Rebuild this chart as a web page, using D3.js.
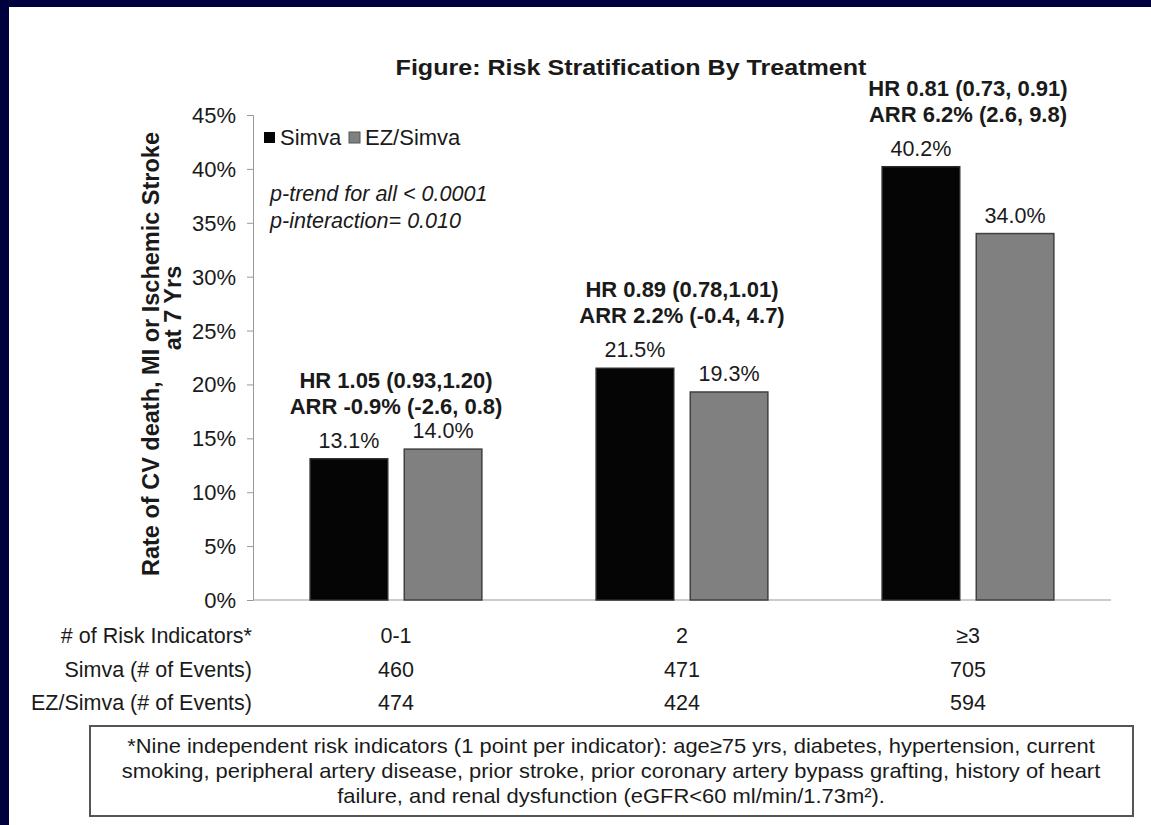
<!DOCTYPE html>
<html>
<head>
<meta charset="utf-8">
<script src="https://cdn.jsdelivr.net/npm/d3@7"></script>
<style>
  html, body { margin: 0; padding: 0; background: #00003f; }
  svg { display: block; }
  text { font-family: "Liberation Sans", Arial, sans-serif; fill: #1a1a1a; }
</style>
</head>
<body>
<svg id="chart" width="1151" height="825"></svg>
<script>
// Risk groups and event rates at 7 years (%)
const categories = ["0-1", "2", "\u22653"];
const series = ["Simva", "EZ/Simva"];
const simvaRate = [13.1, 21.5, 40.2];
const ezSimvaRate = [14.0, 19.3, 34.0];
const simvaEvents = [460, 471, 705];
const ezSimvaEvents = [474, 424, 594];
const hrLabels = ["HR 1.05 (0.93,1.20)", "HR 0.89 (0.78,1.01)", "HR 0.81 (0.73, 0.91)"];
const arrLabels = ["ARR -0.9% (-2.6, 0.8)", "ARR 2.2% (-0.4, 4.7)", "ARR 6.2% (2.6, 9.8)"];
const yTicks = [0, 5, 10, 15, 20, 25, 30, 35, 40, 45];
const footnoteLines = [
  "*Nine independent risk indicators (1 point per indicator): age\u226575 yrs, diabetes, hypertension, current",
  "smoking, peripheral artery disease, prior stroke, prior coronary artery bypass grafting, history of heart",
  "failure, and renal dysfunction (eGFR<60 ml/min/1.73m\u00b2)."
];

const rates = [simvaRate, ezSimvaRate];
const fills = ["#050505", "#808080"];
const strokes = ["#2a2a2a", "#404040"];

const svg = d3.select("#chart");

// white slide panel
svg.append("rect").attr("x", 9).attr("y", 7).attr("width", 1142).attr("height", 818).attr("fill", "#ffffff");

function label(x, y, str, o = {}) {
  return svg.append("text")
    .attr("transform", `translate(${x},${y}) scale(${o.sx ?? 1},1)`)
    .attr("text-anchor", o.anchor || "start")
    .style("font-size", (o.size || 22) + "px")
    .style("font-weight", o.bold ? "bold" : "normal")
    .style("font-style", o.italic ? "italic" : "normal")
    .text(str);
}

const x = d3.scaleBand().domain(categories).range([253, 1111]).paddingInner(0).paddingOuter(0);
const xs = d3.scaleBand().domain(series).range([0, x.bandwidth()]).paddingInner(0.1755).paddingOuter(0.607);
const y = d3.scaleLinear().domain([0, 45]).range([600, 115]);

// title
label(631, 75, "Figure: Risk Stratification By Treatment", { anchor: "middle", bold: true, size: 22, sx: 1.14 });

// y axis
const yAxis = svg.append("g").attr("transform", "translate(253,0)")
  .call(d3.axisLeft(y).tickValues(yTicks).tickSize(6).tickFormat(d => d + "%"));
yAxis.select(".domain").attr("stroke", "#999");
yAxis.selectAll(".tick line").attr("stroke", "#999");
yAxis.selectAll(".tick text").remove();
yTicks.forEach(v => label(236, y(v) + 8, v + "%", { anchor: "end", size: 22 }));

// x baseline
svg.append("line").attr("x1", 253).attr("x2", 1111).attr("y1", y(0)).attr("y2", y(0)).attr("stroke", "#999");

// y axis title (two lines)
svg.append("text").attr("transform", "translate(159,354) rotate(-90)").attr("text-anchor", "middle")
  .style("font-size", "23.5px").style("font-weight", "bold").text("Rate of CV death, MI or Ischemic Stroke");
svg.append("text").attr("transform", "translate(181,308) rotate(-90)").attr("text-anchor", "middle")
  .style("font-size", "23.5px").style("font-weight", "bold").text("at 7 Yrs");

// bars
const groups = svg.append("g").selectAll("g").data(categories).join("g")
  .attr("transform", d => `translate(${x(d)},0)`);
series.forEach((s, si) => {
  groups.append("rect")
    .attr("x", xs(s)).attr("width", xs.bandwidth())
    .attr("y", (d, i) => y(rates[si][i]))
    .attr("height", (d, i) => y(0) - y(rates[si][i]))
    .attr("fill", fills[si]).attr("stroke", strokes[si]).attr("stroke-width", 1.5);
});

// value labels and per-group hazard ratio notes
categories.forEach((c, i) => {
  series.forEach((s, si) => {
    const v = rates[si][i];
    label(x(c) + xs(s) + xs.bandwidth() / 2, y(v) - 11, v.toFixed(1) + "%", { anchor: "middle", size: 21.5 });
  });
  const cx = x(c) + x.bandwidth() / 2;
  const top = y(simvaRate[i]);
  label(cx, top - 71, hrLabels[i], { anchor: "middle", bold: true, size: 22 });
  label(cx, top - 45, arrLabels[i], { anchor: "middle", bold: true, size: 22 });
});

// legend
svg.append("rect").attr("x", 264).attr("y", 132).attr("width", 11).attr("height", 11).attr("fill", fills[0]);
label(280, 145, "Simva", { size: 22 });
svg.append("rect").attr("x", 349).attr("y", 132).attr("width", 11).attr("height", 11).attr("fill", fills[1]).attr("stroke", "#555");
label(365, 145, "EZ/Simva", { size: 22 });

// trend statistics
label(270, 201, "p-trend for all < 0.0001", { size: 22, italic: true, sx: 0.98 });
label(270, 228, "p-interaction= 0.010", { size: 22, italic: true, sx: 0.98 });

// table beneath the axis
const rowNames = ["# of Risk Indicators*", "Simva (# of Events)", "EZ/Simva (# of Events)"];
const rowVals = [categories, simvaEvents, ezSimvaEvents];
const rowY = [643, 677, 710];
rowNames.forEach((n, r) => {
  label(252, rowY[r], n, { anchor: "end", size: 21.5 });
  categories.forEach((c, i) => label(x(c) + x.bandwidth() / 2, rowY[r], String(rowVals[r][i]), { anchor: "middle", size: 21.5 }));
});

// footnote box
svg.append("rect").attr("x", 90).attr("y", 726).attr("width", 1043).attr("height", 90)
  .attr("fill", "#fff").attr("stroke", "#555").attr("stroke-width", 2);
footnoteLines.forEach((l, k) => label(611, 753 + k * 25, l, { anchor: "middle", size: 20.5, sx: 1.07 }));
</script>
</body>
</html>
